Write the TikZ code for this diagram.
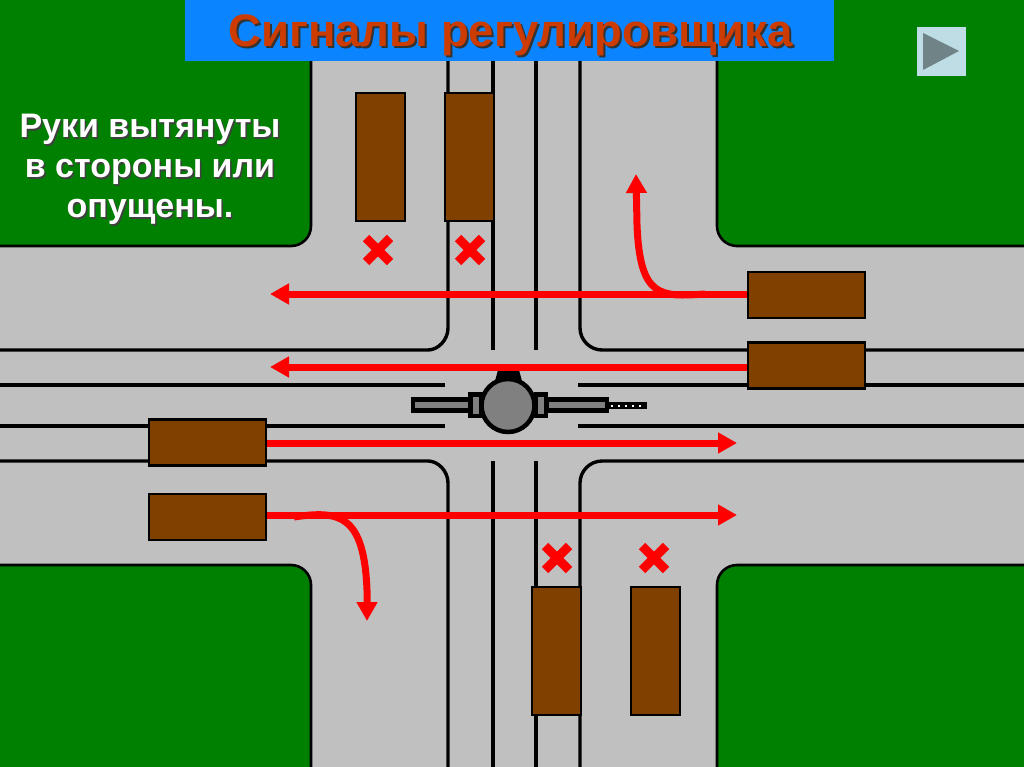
\documentclass[tikz,border=0pt]{standalone}
\usepackage{fontspec}
\setmainfont{Liberation Sans}
\usetikzlibrary{arrows.meta}
\definecolor{road}{RGB}{192,192,192}
\definecolor{grass}{RGB}{0,128,0}
\definecolor{bar}{RGB}{10,132,255}
\definecolor{brownc}{RGB}{128,64,0}
\definecolor{titlec}{RGB}{204,60,0}
\definecolor{btn}{RGB}{190,221,228}
\definecolor{btnt}{RGB}{112,132,136}
\definecolor{fig}{RGB}{128,128,128}
\tikzset{
 lawn/.style={fill=grass,draw=black,line width=2.6pt},
 mark line/.style={draw=black,line width=3.4pt},
 car/.style={fill=brownc,draw=black,line width=2.2pt,inner sep=0pt},
 move/.style={draw=red,line width=7pt,-{Triangle[length=19pt,width=20pt]}},
 cross/.style={draw=red,line width=9pt},
 body/.style={fill=fig,draw=black,line width=4.5pt},
 caption/.style={font=\fontsize{34}{40}\selectfont\bfseries,text=white,align=center,inner sep=0pt},
 titletext/.style={font=\fontsize{45.5}{48}\selectfont\bfseries,inner sep=0pt},
}
\begin{document}
\begin{tikzpicture}[x=1pt,y=-1pt]
\useasboundingbox (0,0) rectangle (1024,767);
\fill[road] (0,0) rectangle (1024,767);
% lawns
\draw[lawn] (-5,-5) -- (311,-5) -- (311,226) arc[start angle=0,end angle=90,radius=20] -- (-5,246) -- cycle;
\draw[lawn] (1029,-5) -- (717,-5) -- (717,226) arc[start angle=180,end angle=90,radius=20] -- (1029,246) -- cycle;
\draw[lawn] (-5,772) -- (311,772) -- (311,585) arc[start angle=0,end angle=-90,radius=20] -- (-5,565) -- cycle;
\draw[lawn] (1029,772) -- (717,772) -- (717,585) arc[start angle=180,end angle=270,radius=20] -- (1029,565) -- cycle;
% markings
\draw[mark line] (448,60) -- (448,328) .. controls (448,340) and (438,350) .. (428,350) -- (0,350);
\draw[mark line] (580,60) -- (580,328) .. controls (580,340) and (590,350) .. (602,350) -- (1024,350);
\draw[mark line] (448,767) -- (448,483) .. controls (448,471) and (438,461) .. (428,461) -- (0,461);
\draw[mark line] (580,767) -- (580,483) .. controls (580,471) and (590,461) .. (602,461) -- (1024,461);
\draw[mark line] (493,60) -- (493,350);
\draw[mark line] (536,60) -- (536,350);
\draw[mark line] (493,461) -- (493,767);
\draw[mark line] (536,461) -- (536,767);
\draw[mark line] (0,385) -- (445,385);
\draw[mark line] (578,385) -- (1024,385);
\draw[mark line] (0,426) -- (445,426);
\draw[mark line] (578,426) -- (1024,426);
% traffic controller head band (under the arrows)
\fill[black] (495,381) -- (498,370) -- (519,370) -- (522,381) -- cycle;
% arrows
\coordinate (t1a) at (748,294);
\coordinate (t1b) at (270,294);
\coordinate (t2a) at (748,367);
\coordinate (t2b) at (270,367);
\coordinate (t3a) at (266,443);
\coordinate (t3b) at (737,443);
\coordinate (t4a) at (266,515);
\coordinate (t4b) at (737,515);
\coordinate (c1a) at (705,294);
\coordinate (c1b) at (636,174);
\coordinate (c2a) at (294,517);
\coordinate (c2b) at (367,621);
\draw[move] (t1a) -- (t1b);
\draw[move] (t2a) -- (t2b);
\draw[move] (t3a) -- (t3b);
\draw[move] (t4a) -- (t4b);
\draw[move] (c1a) .. controls (660,297) and (640,298) .. (637,225) -- (c1b);
\draw[move] (c2a) .. controls (340,510) and (364,515) .. (367,590) -- (c2b);
% cars
\node[car,minimum width=49pt,minimum height=128pt] (v1) at (380.5,157) {};
\node[car,minimum width=49pt,minimum height=128pt] (v2) at (469.5,157) {};
\node[car,minimum width=49pt,minimum height=128pt] (v3) at (556.5,651) {};
\node[car,minimum width=49pt,minimum height=128pt] (v4) at (655.5,651) {};
\node[car,minimum width=117pt,minimum height=46pt] (h1) at (806.5,295) {};
\node[car,minimum width=117pt,minimum height=46pt] (h2) at (806.5,365.5) {};
\node[car,minimum width=117pt,minimum height=46pt] (h3) at (207.5,442.5) {};
\node[car,minimum width=117pt,minimum height=46pt] (h4) at (207.5,517) {};
% crosses
\foreach \cx/\cy in {378/250,470/250,557/558,654/558}{
 \draw[cross] (\cx-12,\cy-12) -- (\cx+12,\cy+12);
 \draw[cross] (\cx+12,\cy-12) -- (\cx-12,\cy+12);
}
% traffic controller
\fill[black] (609,402) rectangle (647,409);
\foreach \dx in {611,618,625,632,639}{\fill[white] (\dx,404.5) rectangle +(2,2);}
\draw[body] (413,399.5) rectangle (470,410.5);
\draw[body] (547,399.5) rectangle (607,410.5);
\draw[body] (470.25,394.25) rectangle (481,415.75);
\draw[body] (536,394.25) rectangle (546,415.75);
\node[draw=black,fill=fig,circle,line width=4.5pt,minimum size=53pt,inner sep=0pt] (head) at (508,405.5) {};
% title bar
\fill[bar] (185,0) rectangle (834,61);
\node[titletext,text=black!80] at (512.5,37) {Сигналы регулировщика};
\node[titletext,text=titlec] (title) at (510.5,35) {Сигналы регулировщика};
% caption
\node[caption,text=black!75] at (151.5,171) {Руки вытянуты\\в стороны или\\опущены.};
\node[caption] (cap) at (150,169.5) {Руки вытянуты\\в стороны или\\опущены.};
% button
\fill[btn] (917,27) rectangle (966,76);
\fill[btnt] (923,33) -- (923,70) -- (959,51) -- cycle;
\end{tikzpicture}
\end{document}
